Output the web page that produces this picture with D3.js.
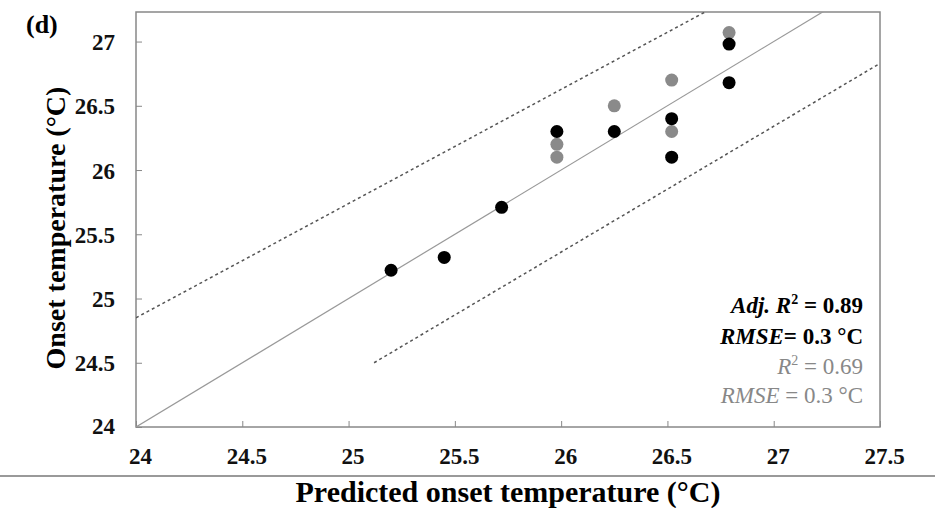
<!DOCTYPE html>
<html>
<head>
<meta charset="utf-8">
<script src="https://cdn.jsdelivr.net/npm/d3@7"></script>
<style>
  body { margin: 0; background: #fff; }
  text { font-family: "Liberation Serif", "Times New Roman", serif; }
</style>
</head>
<body>
<svg id="sketch"></svg>
<script>
// observed vs predicted, black = adjusted model, grey = plain model
var blackX = [25.2, 25.45, 25.72, 25.98, 26.25, 26.52, 26.52, 26.79, 26.79];
var blackY = [25.22, 25.32, 25.71, 26.3, 26.3, 26.4, 26.1, 26.98, 26.68];
var greyX = [25.98, 25.98, 26.25, 26.52, 26.52, 26.79];
var greyY = [26.2, 26.1, 26.5, 26.7, 26.3, 27.07];

// 1:1 line and the two dashed bounds (end points)
var oneToOne = [[24, 24], [27.5, 27.5]];
var upperBound = [[24, 24.85], [26.7, 27.25]];
var lowerBound = [[25.12, 24.5], [27.5, 26.83]];

var xTicks = [24, 24.5, 25, 25.5, 26, 26.5, 27, 27.5];
var yTicks = [24, 24.5, 25, 25.5, 26, 26.5, 27];

function drawChart() {
    var svg = d3.select('#sketch').attr('width', 935).attr('height', 508);

    var pLeft = 136, pRight = 880, pTop = 12, pBottom = 427;

    var x = d3.scaleLinear().domain([24, 27.5]).range([pLeft, pRight]);
    var y = d3.scaleLinear().domain([24, 27.23]).range([pBottom, pTop]);

    svg.append('clipPath').attr('id', 'plotclip')
	.append('rect')
	.attr('x', pLeft).attr('y', pTop)
	.attr('width', pRight - pLeft).attr('height', pBottom - pTop);

    // axes with inward ticks
    var xAxis = svg.append('g')
	.attr('transform', 'translate(0,' + pBottom + ')')
	.call(d3.axisBottom(x).tickValues(xTicks).tickSize(-6).tickSizeOuter(0).tickFormat(d3.format('')));
    xAxis.select('.domain').remove();
    xAxis.selectAll('line').attr('stroke', '#888');
    xAxis.selectAll('text')
	.attr('y', 21)
	.attr('dx', 4)
	.style('font-size', '23px')
	.style('font-weight', 'bold')
	.style('font-family', '"Liberation Serif", serif')
	.attr('fill', '#111');

    var yAxis = svg.append('g')
	.attr('transform', 'translate(' + pLeft + ',0)')
	.call(d3.axisLeft(y).tickValues(yTicks).tickSize(-6).tickSizeOuter(0).tickFormat(d3.format('')));
    yAxis.select('.domain').remove();
    yAxis.selectAll('line').attr('stroke', '#888');
    yAxis.selectAll('text')
	.attr('x', -21)
	.attr('dy', '0.35em')
	.style('font-size', '23px')
	.style('font-weight', 'bold')
	.style('font-family', '"Liberation Serif", serif')
	.attr('fill', '#111');
    // bottom-most y label
    yAxis.selectAll('.tick').filter(function(d) { return d === 24; })
	.select('text').attr('dy', '0.3em');

    // plot frame
    svg.append('rect')
	.attr('x', pLeft).attr('y', pTop)
	.attr('width', pRight - pLeft).attr('height', pBottom - pTop)
	.attr('fill', 'none')
	.attr('stroke', '#888')
	.attr('stroke-width', 1.5);

    var line = d3.line().x(function(d) { return x(d[0]); }).y(function(d) { return y(d[1]); });
    var lines = svg.append('g').attr('clip-path', 'url(#plotclip)');

    lines.append('path').datum(oneToOne)
	.attr('d', line)
	.attr('fill', 'none')
	.attr('stroke', '#999')
	.attr('stroke-width', 1.2);

    [upperBound, lowerBound].forEach(function(b) {
	lines.append('path').datum(b)
	    .attr('d', line)
	    .attr('fill', 'none')
	    .attr('stroke', '#555')
	    .attr('stroke-width', 1.5)
	    .attr('stroke-dasharray', '3,3');
    });

    // points: grey first, black on top
    var pts = svg.append('g');
    greyX.forEach(function(v, i) {
	pts.append('circle')
	    .attr('cx', x(v)).attr('cy', y(greyY[i]))
	    .attr('r', 6.5)
	    .attr('fill', '#8a8a8a');
    });
    blackX.forEach(function(v, i) {
	pts.append('circle')
	    .attr('cx', x(v)).attr('cy', y(blackY[i]))
	    .attr('r', 6.5)
	    .attr('fill', '#000');
    });

    // stats text
    var stats = svg.append('g').style('font-size', '23px');
    var s1 = stats.append('text').attr('x', 863).attr('y', 313).attr('text-anchor', 'end').attr('fill', '#000').style('font-weight', 'bold');
    s1.append('tspan').style('font-style', 'italic').text('Adj. R');
    s1.append('tspan').attr('dy', -9).style('font-size', '14px').text('2');
    s1.append('tspan').attr('dy', 9).text(' = 0.89');

    var s2 = stats.append('text').attr('x', 863).attr('y', 344).attr('text-anchor', 'end').attr('fill', '#000').style('font-weight', 'bold');
    s2.append('tspan').style('font-style', 'italic').text('RMSE');
    s2.append('tspan').text('= 0.3 °C');

    var s3 = stats.append('text').attr('x', 863).attr('y', 374).attr('text-anchor', 'end').attr('fill', '#888');
    s3.append('tspan').style('font-style', 'italic').text('R');
    s3.append('tspan').attr('dy', -9).style('font-size', '14px').text('2');
    s3.append('tspan').attr('dy', 9).text(' = 0.69');

    var s4 = stats.append('text').attr('x', 863).attr('y', 403).attr('text-anchor', 'end').attr('fill', '#888');
    s4.append('tspan').style('font-style', 'italic').text('RMSE');
    s4.append('tspan').text(' = 0.3 °C');

    // panel label
    svg.append('text')
	.attr('x', 26).attr('y', 33)
	.text('(d)')
	.style('font-size', '26px')
	.style('font-weight', 'bold');

    // axis titles
    svg.append('text')
	.attr('x', 508).attr('y', 502)
	.attr('text-anchor', 'middle')
	.text('Predicted onset temperature (°C)')
	.style('font-size', '30px')
	.style('font-weight', 'bold');

    svg.append('text')
	.attr('transform', 'translate(65,228) rotate(-90)')
	.attr('text-anchor', 'middle')
	.text('Onset temperature (°C)')
	.style('font-size', '28px')
	.style('font-weight', 'bold');

    // rule under the x tick labels
    svg.append('line')
	.attr('x1', 0).attr('x2', 935)
	.attr('y1', 476).attr('y2', 476)
	.attr('stroke', '#777')
	.attr('stroke-width', 1.5);
}

drawChart();
</script>
</body>
</html>
